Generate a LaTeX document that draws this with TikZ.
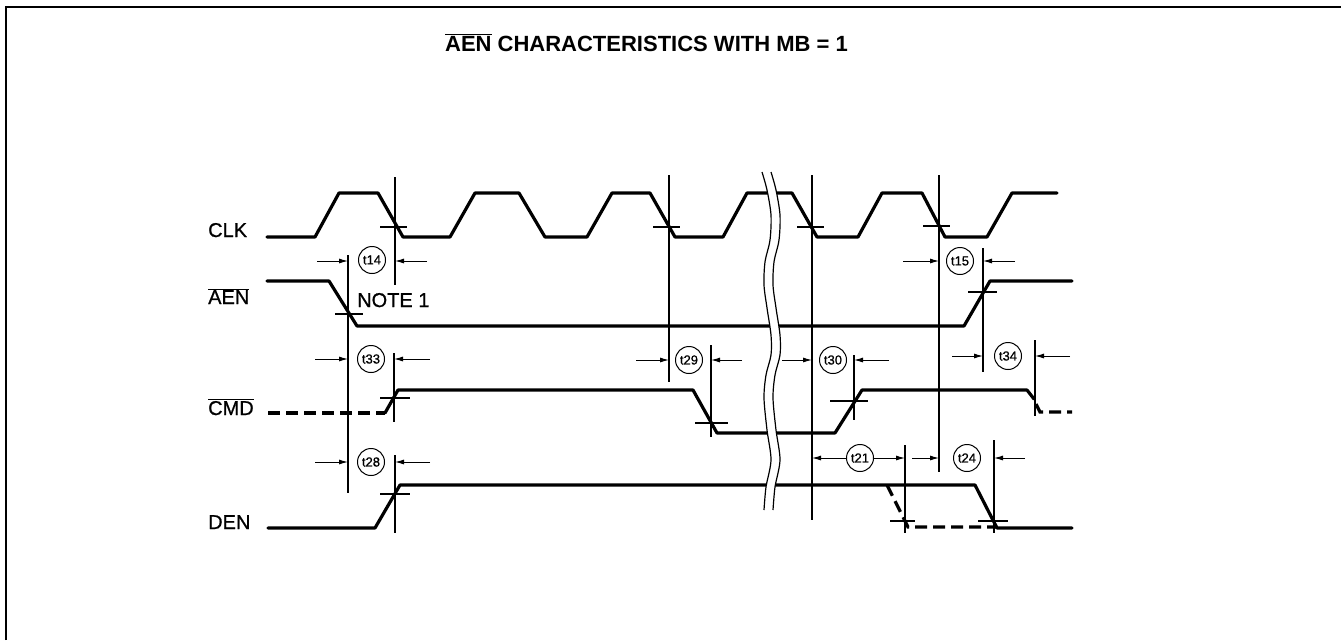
\documentclass[tikz,border=0pt]{standalone}
\usepackage{fontspec}
\setmainfont{Liberation Sans}
\newfontfamily\labfont[FakeBold=0.8]{Liberation Sans}
\usetikzlibrary{arrows.meta}
\begin{document}
\begin{tikzpicture}[x=1pt,y=-1pt,
 sig/.style={line width=3.2pt,line join=round,line cap=round},
 dsig/.style={line width=3.2pt,line cap=butt,dash pattern=on 12pt off 6pt},
 refl/.style={line width=1.1pt},
 xh/.style={line width=1.1pt},
 dima/.style={line width=1pt,-{Latex[length=9pt,width=5pt]}},
 tl/.style={circle,draw,line width=1pt,minimum size=27pt,inner sep=0pt,font=\labfont\fontsize{13}{13}\selectfont},
 lab/.style={anchor=base west,inner sep=0pt,font=\labfont\fontsize{20}{20}\selectfont}]
\useasboundingbox (0,0) rectangle (1341,640);
\draw[line width=2pt] (6,640) -- (6,7) -- (1341,7);

% title and labels
\node[anchor=base,inner sep=0pt,font=\bfseries\fontsize{22}{24}\selectfont] (title) at (646.5,51) {$\overline{\hbox{AEN}}$ CHARACTERISTICS WITH MB = 1};
\node[lab] (clk) at (208,237) {CLK};
\node[lab] (aen) at (208,304) {$\overline{\hbox{AEN}}$};
\node[lab] (cmd) at (208,415) {$\overline{\hbox{CMD}}$};
\node[lab] (den) at (208,529) {DEN};
\node[lab] (note) at (357,307) {NOTE 1};

% signals
\draw[sig] (267,237) -- (315,237) -- (339,193) -- (378,193) -- (403,237) -- (450,237) -- (475,193) -- (519,193) -- (545,237) -- (587,237) -- (612,193) -- (650,193) -- (675,237) -- (723,237) -- (747,193) -- (792,193) -- (817,237) -- (858,237) -- (882,193) -- (922,193) -- (945,237) -- (987,237) -- (1012,193) -- (1057,193);
\draw[sig] (267,281) -- (329,281) -- (357,326) -- (964,326) -- (990,281) -- (1072,281);
\draw[dsig] (268,413) -- (385,413);
\draw[sig] (385,413) -- (398,390) -- (693,390) -- (717,433) -- (835,433) -- (862,390) -- (1027,390) -- (1034,399);
\draw[dsig] (1036,404) -- (1040,412) -- (1072,412);
\draw[sig] (268,528) -- (375,528) -- (400,485) -- (975,485) -- (997,528) -- (1072,528);
\draw[dsig] (887,485) -- (908,527) -- (997,527);

% break
\fill[white] plot[smooth] coordinates {(762,172) (767,190) (771,215) (770,240) (765,262) (764,285) (767,308) (771,335) (771,355) (766,375) (764,398) (767,430) (771,460) (766,487) (764,510)}
 -- plot[smooth] coordinates {(773,510) (775,487) (780,460) (776,430) (773,398) (775,375) (780,355) (780,335) (776,308) (773,285) (774,262) (779,240) (780,215) (776,190) (771,172)} -- cycle;
\draw[line width=1.2pt] plot[smooth] coordinates {(762,172) (767,190) (771,215) (770,240) (765,262) (764,285) (767,308) (771,335) (771,355) (766,375) (764,398) (767,430) (771,460) (766,487) (764,510)};
\draw[line width=1.2pt] plot[smooth] coordinates {(771,172) (776,190) (780,215) (779,240) (774,262) (773,285) (776,308) (780,335) (780,355) (775,375) (773,398) (776,430) (780,460) (775,487) (773,510)};

% reference lines
\coordinate (v1t) at (348,255); \coordinate (v1b) at (348,493);
\coordinate (v2t) at (395,177); \coordinate (v2b) at (395,285);
\coordinate (v3t) at (394,353); \coordinate (v3b) at (394,422);
\coordinate (v4t) at (395,455); \coordinate (v4b) at (395,533);
\coordinate (v5t) at (669,175); \coordinate (v5b) at (669,382);
\coordinate (v6t) at (711,345); \coordinate (v6b) at (711,437);
\coordinate (v7t) at (812,175); \coordinate (v7b) at (812,520);
\coordinate (v8t) at (854,355); \coordinate (v8b) at (854,420);
\coordinate (v9t) at (939,175); \coordinate (v9b) at (939,472);
\coordinate (v10t) at (983,248); \coordinate (v10b) at (983,372);
\coordinate (v11t) at (1035,340); \coordinate (v11b) at (1035,416);
\coordinate (v12t) at (905,445); \coordinate (v12b) at (905,533);
\coordinate (v13t) at (994,440); \coordinate (v13b) at (994,533);
\foreach \v in {1,...,13} {\draw[refl] (v\v t) -- (v\v b);}

% crosshairs
\foreach \a/\b/\y in {380/407/227, 653/680/227, 797/824/227, 923/950/226,
  335/363/314, 968/997/292, 380/410/398, 695/728/423, 830/868/401,
  380/410/494, 890/915/521, 978/1008/521}
  {\draw[xh] (\a,\y) -- (\b,\y);}

% timing labels
\node[tl] (t14) at (372,260) {t14};
\node[tl] (t33) at (371,359) {t33};
\node[tl] (t28) at (371,462) {t28};
\node[tl] (t29) at (689,360) {t29};
\node[tl] (t30) at (833,360) {t30};
\node[tl] (t21) at (860,458) {t21};
\node[tl] (t15) at (960,261) {t15};
\node[tl] (t34) at (1008,356) {t34};
\node[tl] (t24) at (967,458) {t24};

% dimension arrows
\coordinate (a14l) at (317,261); \coordinate (a14r) at (427,261);
\coordinate (a33l) at (315,359); \coordinate (a33r) at (430,359);
\coordinate (a28l) at (315,462); \coordinate (a28r) at (430,462);
\coordinate (a29l) at (636,360); \coordinate (a29r) at (742,360);
\coordinate (a30l) at (782,360); \coordinate (a30r) at (889,360);
\coordinate (a15l) at (903,261); \coordinate (a15r) at (1015,261);
\coordinate (a34l) at (952,356); \coordinate (a34r) at (1070,356);
\coordinate (a24l) at (912,458); \coordinate (a24r) at (1025,458);
\draw[dima] (a14l) -- (a14l -| v1t);
\draw[dima] (a14r) -- (a14r -| v2t);
\draw[dima] (a33l) -- (a33l -| v1t);
\draw[dima] (a33r) -- (a33r -| v3t);
\draw[dima] (a28l) -- (a28l -| v1t);
\draw[dima] (a28r) -- (a28r -| v4t);
\draw[dima] (a29l) -- (a29l -| v5t);
\draw[dima] (a29r) -- (a29r -| v6t);
\draw[dima] (a30l) -- (a30l -| v7t);
\draw[dima] (a30r) -- (a30r -| v8t);
\draw[dima] (a15l) -- (a15l -| v9t);
\draw[dima] (a15r) -- (a15r -| v10t);
\draw[dima] (a34l) -- (a34l -| v10t);
\draw[dima] (a34r) -- (a34r -| v11t);
\draw[dima] (t21.west) -- (t21.west -| v7t);
\draw[dima] (t21.east) -- (t21.east -| v12t);
\draw[dima] (a24l) -- (a24l -| v9t);
\draw[dima] (a24r) -- (a24r -| v13t);
\end{tikzpicture}
\end{document}
